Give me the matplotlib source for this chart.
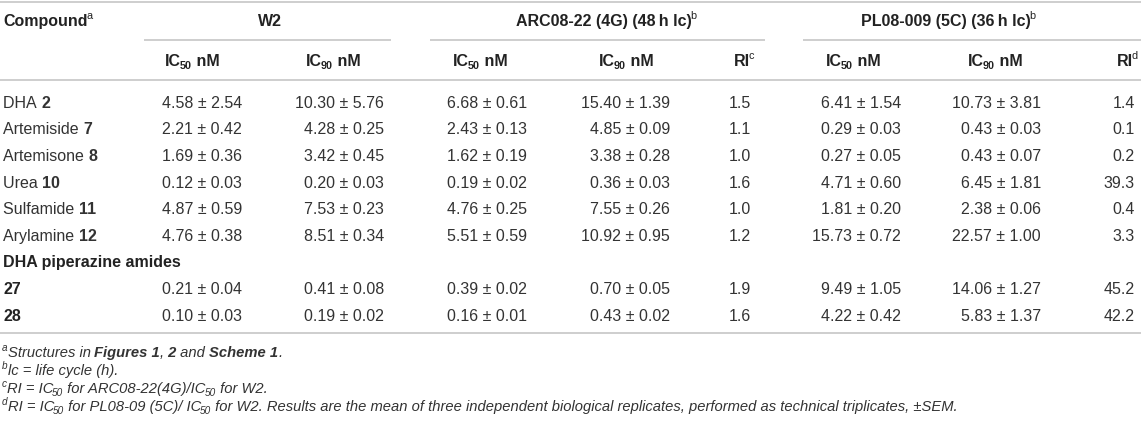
import matplotlib
matplotlib.use("Agg")
import matplotlib.pyplot as plt
from matplotlib.font_manager import FontProperties, findfont, get_font

try:
    from matplotlib.ft2font import LoadFlags
    NO_HINT = LoadFlags.NO_HINTING
except ImportError:
    from matplotlib.ft2font import LOAD_NO_HINTING as NO_HINT

plt.rcParams["font.family"] = ["Liberation Sans", "DejaVu Sans"]

# table data
names = ["DHA", "Artemiside", "Artemisone", "Urea", "Sulfamide", "Arylamine", "", ""]
numbers = ["2", "7", "8", "10", "11", "12", "27", "28"]
section_label = "DHA piperazine amides"
section_before = 6  # section row sits before this data row

w2_ic50 = [4.58, 2.21, 1.69, 0.12, 4.87, 4.76, 0.21, 0.10]
w2_ic50_sem = [2.54, 0.42, 0.36, 0.03, 0.59, 0.38, 0.04, 0.03]
w2_ic90 = [10.30, 4.28, 3.42, 0.20, 7.53, 8.51, 0.41, 0.19]
w2_ic90_sem = [5.76, 0.25, 0.45, 0.03, 0.23, 0.34, 0.08, 0.02]
arc_ic50 = [6.68, 2.43, 1.62, 0.19, 4.76, 5.51, 0.39, 0.16]
arc_ic50_sem = [0.61, 0.13, 0.19, 0.02, 0.25, 0.59, 0.02, 0.01]
arc_ic90 = [15.40, 4.85, 3.38, 0.36, 7.55, 10.92, 0.70, 0.43]
arc_ic90_sem = [1.39, 0.09, 0.28, 0.03, 0.26, 0.95, 0.05, 0.02]
arc_ri = [1.5, 1.1, 1.0, 1.6, 1.0, 1.2, 1.9, 1.6]
pl_ic50 = [6.41, 0.29, 0.27, 4.71, 1.81, 15.73, 9.49, 4.22]
pl_ic50_sem = [1.54, 0.03, 0.05, 0.60, 0.20, 0.72, 1.05, 0.42]
pl_ic90 = [10.73, 0.43, 0.43, 6.45, 2.38, 22.57, 14.06, 5.83]
pl_ic90_sem = [3.81, 0.03, 0.07, 1.81, 0.06, 1.00, 1.27, 1.37]
pl_ri = [1.4, 0.1, 0.2, 39.3, 0.4, 3.3, 45.2, 42.2]

groups = ["W2", "ARC08-22 (4G) (48\u2009h lc)", "PL08-009 (5C) (36\u2009h lc)"]
group_marks = ["", "b", "b"]

W, H = 1141, 422
TEXT = "#333333"
HEAD = "#222222"
RULE = "#c4c4c4"
FS = 16.0    # body size in px
FS_FOOT = 14.8
FAMILY = "Liberation Sans"

# layout (pixels)
top_line, hdr1_y, group_line, hdr2_y, hdr_line = 1.5, 20, 40, 60, 80
row0, row_step = 102, 26.6
bottom_line = 333
foot_y = [352, 370, 388, 406]
col_right = [242, 384, 527, 670, 751, 901, 1041, 1135]
hdr_center = [192, 333, 480, 626, None, 853, 995, None]
group_center = [270, 606, 948]
group_span = [(144, 391), (430, 765), (803, 1141)]

fig = plt.figure(figsize=(W / 100, H / 100), dpi=100)
ax = fig.add_axes([0, 0, 1, 1])
ax.set_xlim(0, W)
ax.set_ylim(H, 0)
ax.axis("off")


def advance(s, size, weight, style):
    # pen advance of a string in pixels, straight from the font metrics
    font = get_font(findfont(FontProperties(family=FAMILY, weight=weight, style=style)))
    font.set_size(size * 72 / 100, 100)
    total = 0.0
    for ch in s:
        g = font.load_char(ord(ch), flags=NO_HINT)
        total += g.linearHoriAdvance / 65536
    return total


def rich(x, y, parts, ha="left", size=FS, color=TEXT):
    """parts: list of (text, opts); opts may contain b, i, bi, sup, sub"""
    base = y + 0.36 * size
    cur = 0.0
    arts = []
    for s, opt in parts:
        flags = opt.split()
        small = "sup" in flags or "sub" in flags
        fs = size * 0.68 if small else size
        dy = -0.42 * size if "sup" in flags else (0.18 * size if "sub" in flags else 0)
        weight = "bold" if ("b" in flags or "bi" in flags) else "normal"
        style = "italic" if ("i" in flags or "bi" in flags) else "normal"
        if small and cur > 0:
            cur -= 1.2   # sit scripts snug against the previous glyph
        t = ax.text(0, base + dy, s, fontsize=fs * 72 / 100, color=color,
                    va="baseline", ha="left", fontweight=weight, fontstyle=style)
        arts.append((t, cur))
        cur += advance(s, fs, weight, style)
    shift = x if ha == "left" else (x - cur / 2 if ha == "center" else x - cur)
    for t, off in arts:
        t.set_x(off + shift)


def hline(y, x0=0, x1=W, lw=1.6):
    ax.plot([x0, x1], [y, y], color=RULE, lw=lw * 72 / 100, solid_capstyle="butt")


# rules
hline(top_line)
for x0, x1 in group_span:
    hline(group_line, x0, x1)
hline(hdr_line)
hline(bottom_line)

# header rows
rich(3, hdr1_y, [("Compound", "b"), ("a", "sup")], color=HEAD)
for g, m, cx in zip(groups, group_marks, group_center):
    parts = [(g, "b")]
    if m:
        parts.append((m, "sup"))
    rich(cx, hdr1_y, parts, ha="center", color=HEAD)

for k, cx in enumerate(hdr_center):
    if cx is None:
        continue
    sub = "50" if k in (0, 2, 5) else "90"
    rich(cx, hdr2_y, [("IC", "b"), (sub, "sub b"), (" nM", "b")], ha="center", color=HEAD)
rich(col_right[4] + 3, hdr2_y, [("RI", "b"), ("c", "sup")], ha="right", color=HEAD)
rich(col_right[7] + 3, hdr2_y, [("RI", "b"), ("d", "sup")], ha="right", color=HEAD)

# body
pairs = [(w2_ic50, w2_ic50_sem), (w2_ic90, w2_ic90_sem), (arc_ic50, arc_ic50_sem),
         (arc_ic90, arc_ic90_sem), (arc_ri, None), (pl_ic50, pl_ic50_sem),
         (pl_ic90, pl_ic90_sem), (pl_ri, None)]
slot = 0
for i in range(len(numbers)):
    if i == section_before:
        rich(3, row0 + slot * row_step, [(section_label, "b")], color=HEAD)
        slot += 1
    y = row0 + slot * row_step
    label = [(names[i] + " ", "")] if names[i] else []
    label.append((numbers[i], "b"))
    rich(3, y, label, color=TEXT if names[i] else HEAD)
    for (vals, sems), xr in zip(pairs, col_right):
        s = f"{vals[i]:.2f} \u00b1 {sems[i]:.2f}" if sems else f"{vals[i]:.1f}"
        rich(xr, y, [(s, "")], ha="right")
    slot += 1

# footnotes
foot = [
    [("a", "i sup"), ("Structures in ", "i"), ("Figures 1", "bi"), (",", "i"),
     (" 2", "bi"), (" and ", "i"), ("Scheme 1", "bi"), (".", "i")],
    [("b", "i sup"), ("lc = life cycle (h).", "i")],
    [("c", "i sup"), ("RI = IC", "i"), ("50", "i sub"), (" for ARC08-22(4G)/IC", "i"),
     ("50", "i sub"), (" for W2.", "i")],
    [("d", "i sup"), ("RI = IC", "i"), ("50", "i sub"), (" for PL08-09 (5C)/ IC", "i"),
     ("50", "i sub"),
     (" for W2. Results are the mean of three independent biological replicates, "
      "performed as technical triplicates, \u00b1SEM.", "i")],
]
for parts, y in zip(foot, foot_y):
    rich(2, y, parts, size=FS_FOOT)

fig.savefig("out.png", dpi=100, facecolor="white")
